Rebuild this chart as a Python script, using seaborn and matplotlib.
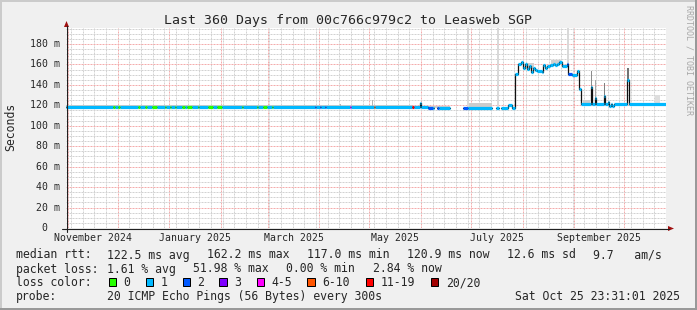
import numpy as np
import pandas as pd
import matplotlib
matplotlib.use("Agg")
import matplotlib.pyplot as plt
import seaborn as sns
from matplotlib.patches import Rectangle, Polygon
from matplotlib.lines import Line2D
import matplotlib.transforms as mtrans

# ---------------------------------------------------------------- data
period_start = "2024-10-30 23:31:01"
period_end = "2025-10-25 23:31:01"
title = "Last 360 Days from 00c766c979c2 to Leasweb SGP"

# median rtt samples: day since period start, value in ms, loss class index
med_day = [0.0, 28.2, 29.4, 31.2, 32.4, 43.2, 44.4, 47.4, 48.6, 51.6, 54.6,
           59.4, 60.2, 62.4, 63.2, 65.4, 66.2, 69.6, 71.4, 72.6, 75.6, 79.2,
           80.0, 85.2, 88.2, 90.6, 93.6, 105.6, 106.4, 114.6, 115.4, 118.2,
           120.6, 123.6, 124.4, 149.4, 150.2, 152.4, 153.2, 155.4, 156.2,
           170.4, 171.2, 184.6, 185.4, 207.4, 208.8, 212.4, 213.0, 217.2,
           220.2, 220.8, 222.6, 223.8, 230.4, 238.2, 241.2, 255.6, 258.0,
           259.8, 261.0, 265.4, 267.4, 269.4, 271.4, 272.8, 274.0, 275.4,
           276.8, 278.0, 278.8, 280.4, 281.4, 282.8, 285.4, 286.4, 287.4,
           288.8, 290.4, 292.0, 293.4, 294.4, 296.0, 297.4, 300.4, 301.2,
           303.6, 306.4, 307.8, 308.8, 314.8, 315.6, 317.2, 318.0, 322.6,
           323.4, 325.0, 325.8, 327.0, 327.8, 329.0, 336.8, 337.6, 360.0]
med_ms = [118, 118, 118, 118, 118, 118, 118, 118, 118, 118, 118,
          118, 118, 118, 118, 118, 118, 118, 118, 118, 118, 118,
          118, 118, 118, 118, 118, 118, 118, 118, 118, 118,
          118, 118, 118, 118, 118, 118, 118, 118, 118,
          118, 118, 118, 118, 118, 118, 122, 118, 117,
          117, np.nan, 117, 117, np.nan, 117, 117, np.nan, 117,
          np.nan, 117, 120, 117, 151, 160, 162, 157, 160,
          156, 158, 153, 157, 155, 154, 153, 159, 157,
          158, 159, 160, 159, 160, 162, 158, 160, 151,
          150, 154, 136, 121, 138, 121, 127, 121, 129,
          121, 123, 119, 121, 119.5, 121, 145, 121, np.nan]
med_loss = [1, 0, 1, 0, 1, 0, 1, 0, 1, 0, 1,
            0, 1, 0, 1, 0, 1, 0, 1, 0, 1, 0,
            1, 0, 1, 0, 1, 0, 1, 0, 1, 0,
            1, 0, 1, 2, 1, 2, 1, 2, 1,
            4, 1, 5, 1, 6, 1, 1, 1, 2,
            1, 1, 2, 1, 1, 2, 1, 1, 1,
            1, 1, 1, 1, 1, 1, 1, 1, 1,
            1, 1, 1, 1, 1, 1, 1, 1, 1,
            1, 1, 1, 1, 1, 1, 1, 2, 2,
            1, 1, 1, 1, 1, 1, 1, 1, 1,
            1, 1, 1, 1, 1, 1, 1, 1, 1]

# smoke (spread of the individual pings)
smoke_start = [0.0, 207.4, 164.4, 183.6, 240.4, 242.0, 258.6, 276.0, 291.0,
               300.4, 310.2, 314.8, 317.2, 322.6, 336.8, 353.4]
smoke_end = [207.4, 230.4, 165.2, 184.4, 241.6, 255.6, 259.6, 281.0, 297.0,
             301.6, 314.4, 315.6, 318.0, 323.4, 337.6, 356.4]
smoke_lo = [118, 117, 118, 118, 117, 117, 117, 156, 159,
            158, 121, 138, 121, 129, 145, 121]
smoke_hi = [120.5, 119.5, 121.5, 125, 196, 122, 196, 161, 164,
            196, 125, 154, 145, 142, 157, 130]
smoke_density = [0.2, 0.2, 0.3, 0.3, 0.15, 0.2, 0.15, 0.18, 0.18,
                 0.15, 0.2, 0.45, 0.35, 0.5, 0.55, 0.13]

loss_labels = ["0", "1", "2", "3", "4-5", "6-10", "11-19", "20/20"]
loss_colors = ["#26ff00", "#00b8ff", "#0059ff", "#7e00ff",
               "#ff00ff", "#ff5500", "#ff0000", "#a10000"]

month_labels = ["November 2024", "January 2025", "March 2025",
                "May 2025", "July 2025", "September 2025"]
month_label_dates = ["2024-11-01", "2025-01-01", "2025-03-01",
                     "2025-05-01", "2025-07-01", "2025-09-01"]
ytick_values = [0, 20, 40, 60, 80, 100, 120, 140, 160, 180]
ytick_labels = ["0", "20 m", "40 m", "60 m", "80 m", "100 m",
                "120 m", "140 m", "160 m", "180 m"]

rtt_stats = ["122.5 ms avg", "162.2 ms max", "117.0 ms min",
             "120.9 ms now", "12.6 ms sd", "9.7   am/s"]
loss_stats = ["1.61 % avg", "51.98 % max", "0.00 % min", "2.84 % now"]
probe_text = "20 ICMP Echo Pings (56 Bytes) every 300s"
stamp_text = "Sat Oct 25 23:31:01 2025"

# ---------------------------------------------------------------- layout
W, H = 697, 310
Y_MAX = 195.66
MONO = "DejaVu Sans Mono"

sns.set_style("white")
plt.rcParams["font.family"] = [MONO]
plt.rcParams["axes.linewidth"] = 0.72


def fx(px):
    return px / W


def fy(py):
    return 1 - py / H


fig = plt.figure(figsize=(W / 100, H / 100), dpi=100)
fig.patch.set_facecolor("#f0f0f0")

# 3D-ish frame of the canvas
for (x0, y0, w, h, c) in [(0, 0, W, 2, "#cbcbcb"), (0, 0, 2, H, "#cbcbcb"),
                          (0, H - 2, W, 2, "#999999"), (W - 2, 0, 2, H, "#999999")]:
    fig.add_artist(Rectangle((fx(x0), fy(y0 + h)), w / W, h / H,
                             transform=fig.transFigure, color=c, lw=0))

ax = fig.add_axes([fx(66), fy(228), 600 / W, 200 / H])
ax.set_facecolor("white")
ax.set_xlim(0, 360)
ax.set_ylim(0, Y_MAX)
for s in ax.spines.values():
    s.set_visible(False)

t0 = pd.Timestamp(period_start)
t1 = pd.Timestamp(period_end)
month_starts = pd.date_range("2024-11-01", t1, freq="MS")
sundays = pd.date_range("2024-11-03", t1, freq="W-SUN")
to_day = lambda ts: (ts - t0) / pd.Timedelta(days=1)

ax.xaxis.set_major_locator(matplotlib.ticker.FixedLocator([to_day(d) for d in month_starts]))
ax.xaxis.set_minor_locator(matplotlib.ticker.FixedLocator([to_day(d) for d in sundays]))
ax.yaxis.set_major_locator(matplotlib.ticker.MultipleLocator(20))
ax.yaxis.set_minor_locator(matplotlib.ticker.MultipleLocator(5))
ax.set_axisbelow(True)
ax.grid(which="minor", color="#d2d2d2", lw=0.72, ls=(0, (2, 1)))
ax.grid(which="major", color="#f4acac", lw=0.72, ls=(0, (2, 1)))
ax.tick_params(axis="x", which="major", length=3, width=0.72, color="#e07070",
               direction="inout", labelbottom=False)
ax.tick_params(axis="x", which="minor", length=2, width=0.72, color="#b0b0b0",
               direction="inout")
ax.tick_params(axis="y", which="major", length=3, width=0.72, color="#e07070",
               direction="out", labelleft=False)
ax.tick_params(axis="y", which="minor", length=0)

# smoke
smoke_colors = [str(1 - d) for d in smoke_density]
ax.bar(smoke_start, np.array(smoke_hi) - np.array(smoke_lo),
       width=np.array(smoke_end) - np.array(smoke_start), bottom=smoke_lo,
       align="edge", color=smoke_colors, lw=0, zorder=2)

# median line (dark connector) via seaborn
rows = []
chunk = 0
for i in range(len(med_day) - 1):
    if np.isnan(med_ms[i]):
        chunk += 1
        continue
    rows.append((chunk, med_day[i], med_ms[i]))
    rows.append((chunk, med_day[i + 1], med_ms[i]))
line_df = pd.DataFrame(rows, columns=["chunk", "day", "ms"])
sns.lineplot(data=line_df, x="day", y="ms", units="chunk", estimator=None,
             sort=False, color="#101010", lw=0.9, ax=ax, zorder=3)

# loss coloured median segments
xs0, xs1, ys, cs = [], [], [], []
for i in range(len(med_day) - 1):
    if np.isnan(med_ms[i]):
        continue
    xs0.append(med_day[i]); xs1.append(med_day[i + 1]); ys.append(med_ms[i])
    cs.append(loss_colors[med_loss[i]])
ax.hlines(ys, xs0, xs1, colors=cs, lw=2.3, zorder=4)
ax.set_xlabel("")
ax.set_ylabel("")

# axis lines with arrows (figure pixel coordinates)
ax_col = "#202020"
arrow_col = "#a01010"
fig.add_artist(Line2D([fx(61.5), fx(669)], [fy(228.5), fy(228.5)], color=ax_col,
                      lw=0.8, transform=fig.transFigure))
fig.add_artist(Line2D([fx(66.5), fx(66.5)], [fy(232), fy(26)], color=ax_col,
                      lw=0.8, transform=fig.transFigure))
fig.add_artist(Polygon([[fx(668), fy(226)], [fx(674), fy(228.5)], [fx(668), fy(231)]],
                       closed=True, color=arrow_col, lw=0, transform=fig.transFigure))
fig.add_artist(Polygon([[fx(64), fy(27)], [fx(66.5), fy(21)], [fx(69), fy(27)]],
                       closed=True, color=arrow_col, lw=0, transform=fig.transFigure))

# y tick labels
for v, lab in zip(ytick_values, ytick_labels):
    dx = -6.5 if lab.endswith("m") else -6.5 - 2 * 5.93
    tr = mtrans.blended_transform_factory(ax.transAxes, ax.transData) + \
        mtrans.ScaledTranslation(dx / 100, -3 / 100, fig.dpi_scale_trans)
    ax.text(0, v, lab, transform=tr, ha="right", va="baseline", fontsize=7.1,
            family=MONO)

# x (month) labels, centred on their month
for lab, d in zip(month_labels, month_label_dates):
    a = pd.Timestamp(d)
    b = a + pd.offsets.MonthBegin(1)
    mid = (to_day(a) + to_day(b)) / 2
    tr = mtrans.blended_transform_factory(ax.transData, ax.transAxes) + \
        mtrans.ScaledTranslation(0, -13 / 100, fig.dpi_scale_trans)
    ax.text(mid, 0, lab, transform=tr, ha="center", va="baseline", fontsize=7.1,
            family=MONO)

# titles
fig.text(fx(348), fy(24.3), title, ha="center", va="baseline", fontsize=9.5, family=MONO)
fig.text(fx(10.8), fy(126.5), "Seconds", rotation=90, ha="center", va="center",
         fontsize=8.3, family=MONO)
fig.text(fx(688.5), fy(60), "RRDTOOL / TOBI OETIKER", rotation=270, ha="center",
         va="center", fontsize=6, color="#a8a8a8", family=MONO)

# legend block
FS = 8.3
row_y = [258.5, 272.5, 286.4, 300.3]
fig.text(fx(16), fy(row_y[0]), "median rtt:", fontsize=FS, va="baseline", family=MONO)
for s, x in zip(rtt_stats, [107.3, 207.3, 306.7, 407.3, 506.7, 593.3]):
    fig.text(fx(x), fy(row_y[0]), s, fontsize=FS, va="baseline", family=MONO)
fig.text(fx(16), fy(row_y[1]), "packet loss:", fontsize=FS, va="baseline", family=MONO)
for s, x in zip(loss_stats, [107.3, 192.7, 286.0, 372.7]):
    fig.text(fx(x), fy(row_y[1]), s, fontsize=FS, va="baseline", family=MONO)
fig.text(fx(16), fy(row_y[2]), "loss color:", fontsize=FS, va="baseline", family=MONO)
for lab, col, x in zip(loss_labels, loss_colors,
                       [108.7, 145.7, 182.7, 219.3, 256.7, 307.3, 365.7, 431.0]):
    fig.add_artist(Rectangle((fx(x), fy(286.3)), 7.3 / W, 8 / H, transform=fig.transFigure,
                             facecolor=col, edgecolor="black", lw=0.72))
    fig.text(fx(x + 14.7), fy(row_y[2]), lab, fontsize=FS, va="baseline", family=MONO)
fig.text(fx(16), fy(row_y[3]), "probe:", fontsize=FS, va="baseline", family=MONO)
fig.text(fx(107.3), fy(row_y[3]), probe_text, fontsize=FS, va="baseline", family=MONO)
fig.text(fx(680), fy(row_y[3]), stamp_text, fontsize=FS, va="baseline", ha="right",
         family=MONO)

fig.savefig("out.png", dpi=100, facecolor=fig.get_facecolor())
